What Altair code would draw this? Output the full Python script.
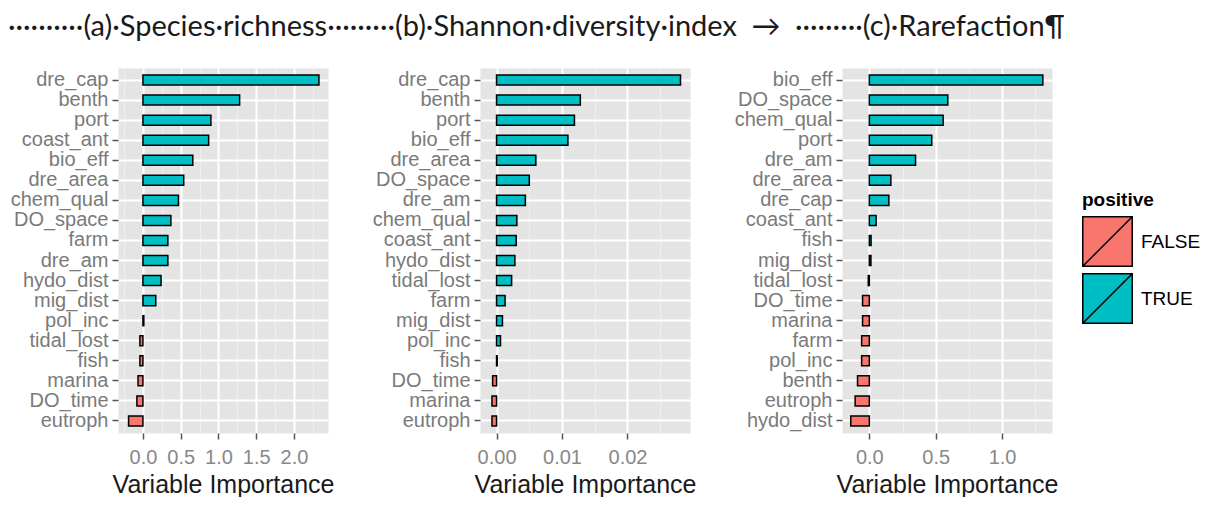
import altair as alt
import pandas as pd

# (a) Species richness
names_a = ["dre_cap", "benth", "port", "coast_ant", "bio_eff", "dre_area", "chem_qual", "DO_space", "farm",
           "dre_am", "hydo_dist", "mig_dist", "pol_inc", "tidal_lost", "fish", "marina", "DO_time", "eutroph"]
imp_a = [2.33, 1.28, 0.90, 0.87, 0.66, 0.54, 0.47, 0.37, 0.33,
         0.33, 0.24, 0.17, 0.012, -0.04, -0.04, -0.065, -0.08, -0.19]

# (b) Shannon diversity index
names_b = ["dre_cap", "benth", "port", "bio_eff", "dre_area", "DO_space", "dre_am", "chem_qual", "coast_ant",
           "hydo_dist", "tidal_lost", "farm", "mig_dist", "pol_inc", "fish", "DO_time", "marina", "eutroph"]
imp_b = [0.0281, 0.0128, 0.0119, 0.0109, 0.0060, 0.0050, 0.0044, 0.0031, 0.0030,
         0.0028, 0.0023, 0.0013, 0.0009, 0.0006, 0.0001, -0.0006, -0.0007, -0.0007]

# (c) Rarefaction
names_c = ["bio_eff", "DO_space", "chem_qual", "port", "dre_am", "dre_area", "dre_cap", "coast_ant", "fish",
           "mig_dist", "tidal_lost", "DO_time", "marina", "farm", "pol_inc", "benth", "eutroph", "hydo_dist"]
imp_c = [1.307, 0.591, 0.556, 0.470, 0.348, 0.162, 0.147, 0.051, 0.013,
         0.012, -0.008, -0.051, -0.051, -0.058, -0.058, -0.089, -0.107, -0.140]

header = ("··········(a)·Species·richness·········(b)·Shannon·diversity·index\u2002→\u2002"
          "·········(c)·Rarefaction¶")

sign_levels = ["FALSE", "TRUE"]
sign_colors = ["#F8766D", "#00BFC4"]

legend = alt.Legend(
    title="positive", orient="none", legendX=964, legendY=123,
    symbolType="M-1,-1H1V1H-1Z M-1,1L1,-1", symbolSize=2450,
    symbolStrokeColor="black", symbolStrokeWidth=1.5, symbolOpacity=1,
    rowPadding=0, labelOffset=8, labelFontSize=19, labelColor="black",
    titleFontSize=19, titleFontWeight="bold", titleColor="black", titlePadding=6,
)


# one ggplot-like panel: grey background, major + minor grid, outlined bars
def importance_panel(names, values, domain, major, minor, fmt):
    df = pd.DataFrame({"variable": names, "importance": values})
    df["positive"] = ["TRUE" if v > 0 else "FALSE" for v in values]

    x_scale = alt.Scale(domain=domain, nice=False, zero=False)
    y = alt.Y("variable:N", sort=names, title=None,
              scale=alt.Scale(paddingInner=0.5, paddingOuter=0.35),
              axis=alt.Axis(labelFontSize=20, labelColor="#7a7a7a", labelPadding=4,
                            tickColor="#555555", tickSize=6, tickWidth=1.5,
                            grid=True, gridColor="white", gridWidth=2, tickBand="center",
                            domain=False, minExtent=110, maxExtent=110))

    minor_grid = alt.Chart(df).mark_bar(opacity=0).encode(
        x=alt.X("importance:Q", scale=x_scale,
                axis=alt.Axis(orient="top", values=minor, grid=True, gridColor="#EFEFEF", gridWidth=1,
                              labels=False, ticks=False, domain=False, title=None,
                              minExtent=0, maxExtent=0)),
        y=y,
    )

    bars = alt.Chart(df).mark_bar(stroke="black", strokeWidth=1.5).encode(
        x=alt.X("importance:Q", scale=x_scale,
                axis=alt.Axis(values=major, format=fmt, title="Variable Importance",
                              labelFontSize=20, labelColor="#888888", labelPadding=8,
                              tickColor="#555555", tickSize=6, tickWidth=1.5,
                              grid=True, gridColor="white", gridWidth=2, domain=False,
                              titleFontSize=25, titleFontWeight="normal", titleColor="#1a1a1a",
                              titlePadding=5)),
        y=y,
        color=alt.Color("positive:N", scale=alt.Scale(domain=sign_levels, range=sign_colors), legend=legend),
    )

    return alt.layer(minor_grid, bars).resolve_axis(x="independent").properties(width=210, height=365)


panel_a = importance_panel(names_a, imp_a, [-0.33, 2.45], [0, 0.5, 1.0, 1.5, 2.0],
                           [-0.25, 0.25, 0.75, 1.25, 1.75, 2.25], ".1f")
panel_b = importance_panel(names_b, imp_b, [-0.00253, 0.02955], [0, 0.01, 0.02],
                           [0.005, 0.015, 0.025], ".2f")
panel_c = importance_panel(names_c, imp_c, [-0.206, 1.376], [0, 0.5, 1.0],
                           [0.25, 0.75, 1.25], ".1f")

chart = alt.hconcat(panel_a, panel_b, panel_c, spacing=36).properties(
    title=alt.TitleParams(text=header, anchor="start", frame="bounds", font="Lato", fontSize=29,
                          fontWeight="normal", color="#1a1a1a", offset=26),
    padding={"left": 0, "top": 5, "right": 0, "bottom": 0},
).configure(
    font="Liberation Sans",
).configure_view(
    fill="#E4E4E4", strokeOpacity=0
)

chart.save("out.html", embed_options={"renderer": "svg", "actions": False})
